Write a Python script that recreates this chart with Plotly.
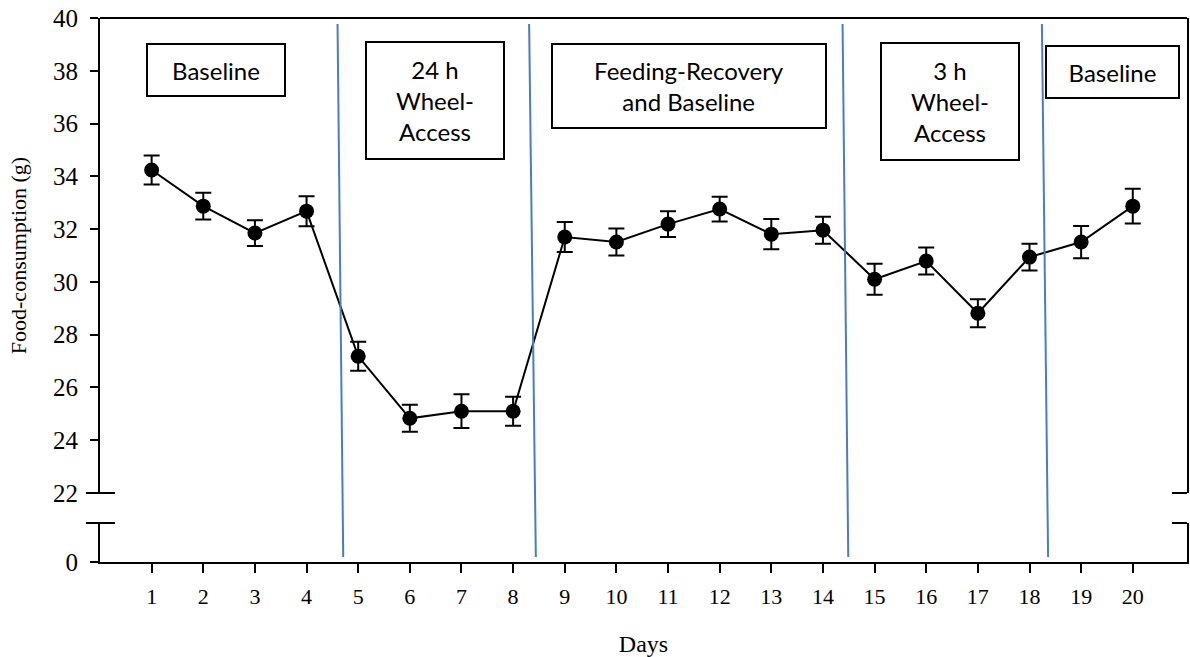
import plotly.graph_objects as go

# ---- data ----
days = list(range(1, 21))
food = [34.24, 32.87, 31.85, 32.68, 27.18, 24.83, 25.10, 25.10, 31.70, 31.51,
        32.19, 32.76, 31.81, 31.96, 30.10, 30.79, 28.81, 30.94, 31.51, 32.87]
sem = [0.55, 0.51, 0.49, 0.57, 0.55, 0.51, 0.64, 0.55, 0.57, 0.51,
       0.49, 0.47, 0.57, 0.51, 0.59, 0.51, 0.53, 0.51, 0.61, 0.66]
y_ticks_upper = [22, 24, 26, 28, 30, 32, 34, 36, 38, 40]
y_ticks_lower = [0]

# phase separators (slightly slanted as in the original): day position at top / bottom
sep_top = [4.60, 8.31, 14.38, 18.24]
sep_bottom = [4.71, 8.44, 14.49, 18.36]

phase_labels = ["Baseline", "24 h<br>Wheel-<br>Access", "Feeding-Recovery<br>and Baseline",
                "3 h<br>Wheel-<br>Access", "Baseline"]
phase_label_day = [2.24, 6.49, 11.40, 16.46, 19.61]
phase_label_y = [0.904, 0.849, 0.875, 0.846, 0.901]
phase_box_w = [140, 140, 276, 140, 135]
phase_box_h = [54, 119, 86, 119, 54]

W, H = 1190, 657
ML, MR, MT, MB = 100, 1, 18, 95
plot_h = H - MT - MB
upper_bottom = (562 - 493) / plot_h
lower_top = (562 - 523) / plot_h

serif = "Liberation Serif, Times New Roman, serif"
sans = "Lato, Carlito, Calibri, sans-serif"

fig = go.Figure()
fig.add_trace(go.Scatter(
    x=days, y=food, xaxis="x", yaxis="y", mode="lines+markers",
    line=dict(color="black", width=2),
    marker=dict(color="black", size=15),
    error_y=dict(type="data", array=sem, visible=True, color="black", thickness=2, width=8),
    showlegend=False, hoverinfo="x+y"))
# invisible trace to materialise the lower (0) axis segment
fig.add_trace(go.Scatter(x=[days[0]], y=[0], xaxis="x", yaxis="y2", mode="markers",
                         marker=dict(opacity=0), showlegend=False, hoverinfo="skip"))

shapes = []
# top border
shapes.append(dict(type="line", xref="x domain", yref="y domain", x0=0, x1=1, y0=1, y1=1,
                   line=dict(color="black", width=2)))
# axis break marks
pw = W - ML - MR
for yref, yy in (("y domain", 0), ("y2 domain", 1)):
    shapes.append(dict(type="line", xref="x domain", yref=yref, x0=-14 / pw, x1=15 / pw, y0=yy, y1=yy,
                       line=dict(color="black", width=2)))
    shapes.append(dict(type="line", xref="x domain", yref=yref, x0=1 - 15 / pw, x1=1, y0=yy, y1=yy,
                       line=dict(color="black", width=2)))
# phase separators
for xt, xb in zip(sep_top, sep_bottom):
    shapes.append(dict(type="line", xref="x", yref="paper", x0=xt, x1=xb,
                       y0=(562 - 24) / plot_h, y1=(562 - 557) / plot_h,
                       line=dict(color="#4a7ebb", width=2)))

annotations = []
for txt, xd, yp, bw, bh in zip(phase_labels, phase_label_day, phase_label_y, phase_box_w, phase_box_h):
    annotations.append(dict(text=txt, x=xd, y=yp, xref="x", yref="paper", showarrow=False,
                            font=dict(family=sans, size=24, color="black"),
                            bordercolor="black", borderwidth=2, borderpad=0,
                            width=bw - 4, height=bh - 4, bgcolor="white",
                            xanchor="center", yanchor="middle", align="center"))

fig.update_layout(
    width=W, height=H, autosize=False,
    margin=dict(l=ML, r=MR, t=MT, b=MB),
    paper_bgcolor="white", plot_bgcolor="white",
    shapes=shapes, annotations=annotations,
    xaxis=dict(range=[0, 21.05], anchor="y2", tickvals=days, ticktext=[str(d) for d in days],
               showgrid=False, zeroline=False, showline=True, linecolor="black", linewidth=2,
               ticks="outside", ticklen=9, tickwidth=2, tickcolor="black", ticklabelstandoff=5,
               tickfont=dict(family=serif, size=22, color="black"),
               title=dict(text="Days", font=dict(family=serif, size=24, color="black"), standoff=30)),
    yaxis=dict(domain=[upper_bottom, 1], range=[22, 40], anchor="x", tickvals=y_ticks_upper,
               showgrid=False, zeroline=False, showline=True, mirror=True, linecolor="black", linewidth=2,
               ticks="outside", ticklen=8, tickwidth=2, tickcolor="black", ticklabelstandoff=7,
               tickfont=dict(family=serif, size=25, color="black"),
               title=dict(text="Food-consumption (g)", font=dict(family=serif, size=22, color="black"),
                          standoff=20)),
    yaxis2=dict(domain=[0, lower_top], range=[0, 39 / 26.37], anchor="x", tickvals=y_ticks_lower,
                showgrid=False, zeroline=False, showline=True, mirror=True, linecolor="black", linewidth=2,
                ticks="outside", ticklen=8, tickwidth=2, tickcolor="black", ticklabelstandoff=7,
                tickfont=dict(family=serif, size=25, color="black")),
)

fig.write_html("out.html", config={"displayModeBar": False},
               post_script="document.body.style.margin='0';")
